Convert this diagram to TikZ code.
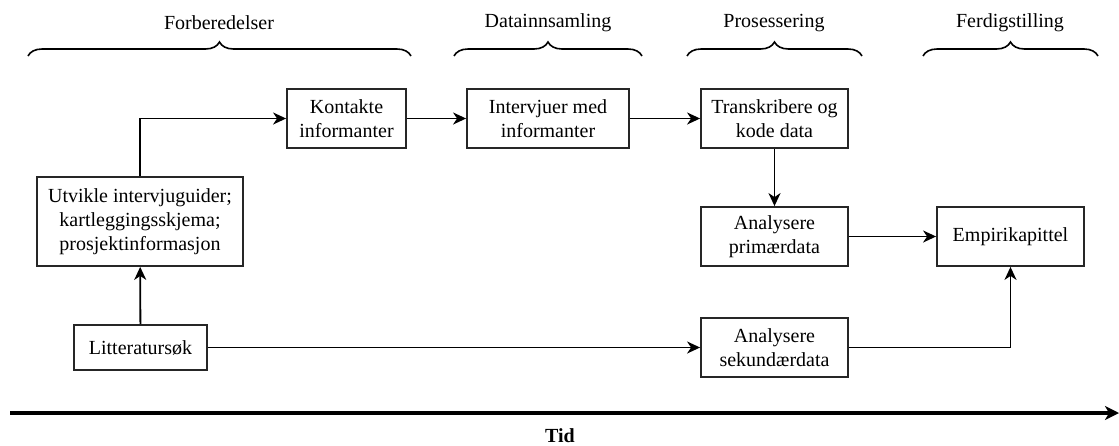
\documentclass[tikz,border=0pt]{standalone}
\usepackage{fontspec}
\setmainfont{Liberation Serif}
\usetikzlibrary{arrows.meta,decorations.pathreplacing}
\begin{document}
\begin{tikzpicture}[x=1pt,y=-1pt,
  font=\fontsize{20}{24}\selectfont,
  box/.style={draw=black!85,line width=1.8pt,align=center,inner sep=2pt},
  arr/.style={line width=1.8pt,-{Stealth[length=13pt,width=12pt,inset=4pt]}},
  bracestyle/.style={draw,line width=1.6pt,decorate,decoration={brace,amplitude=14pt,aspect=0.5}},
  head/.style={inner sep=0pt}]
\useasboundingbox (0,0) rectangle (1119,445);
% phase headings
\node[head] (hforb) at (219,23) {Forberedelser};
\node[head] (hdata) at (548,23) {Datainnsamling};
\node[head] (hpros) at (774,23) {Prosessering};
\node[head] (hferd) at (1010,23) {Ferdigstilling};
% braces
\draw[bracestyle] (28,56) -- (411,56);
\draw[bracestyle] (454,56) -- (642,56);
\draw[bracestyle] (687,56) -- (862,56);
\draw[bracestyle] (923,56) -- (1098,56);
% boxes
\node[box,minimum width=119pt,minimum height=59pt] (kont) at (346.5,118.5) {Kontakte\\informanter};
\node[box,minimum width=162pt,minimum height=59pt] (intv) at (548,118.5) {Intervjuer med\\informanter};
\node[box,minimum width=147pt,minimum height=59pt] (trans) at (774.5,118.5) {Transkribere og\\kode data};
\node[box,minimum width=206pt,minimum height=89pt] (utv) at (140,221.5) {Utvikle intervjuguider;\\kartleggingsskjema;\\prosjektinformasjon};
\node[box,minimum width=133pt,minimum height=45pt] (lit) at (140.5,347.5) {Litteraturs\o k};
\node[box,minimum width=147pt,minimum height=59pt] (prim) at (774.5,236.5) {Analysere\\prim\ae rdata};
\node[box,minimum width=147pt,minimum height=59pt] (sek) at (774.5,347.5) {Analysere\\sekund\ae rdata};
\node[box,minimum width=147pt,minimum height=59pt] (emp) at (1010.5,236.5) {Empirikapittel};
% connectors
\draw[arr] (lit) -- (utv);
\draw[arr] (utv.north) |- (kont.west);
\draw[arr] (kont) -- (intv);
\draw[arr] (intv) -- (trans);
\draw[arr] (trans) -- (prim);
\draw[arr] (prim) -- (emp);
\draw[arr] (lit) -- (sek);
\draw[arr] (sek.east) -| (emp.south);
% time axis
\coordinate (tstart) at (10,413);
\coordinate (tend) at (1119,413);
\draw[line width=3.5pt,-{Stealth[length=14pt,width=14pt,inset=4pt]}] (tstart) -- (tend);
\node[font=\fontsize{20}{24}\selectfont\bfseries,inner sep=0pt] (tid) at (560,436) {Tid};
\end{tikzpicture}
\end{document}
